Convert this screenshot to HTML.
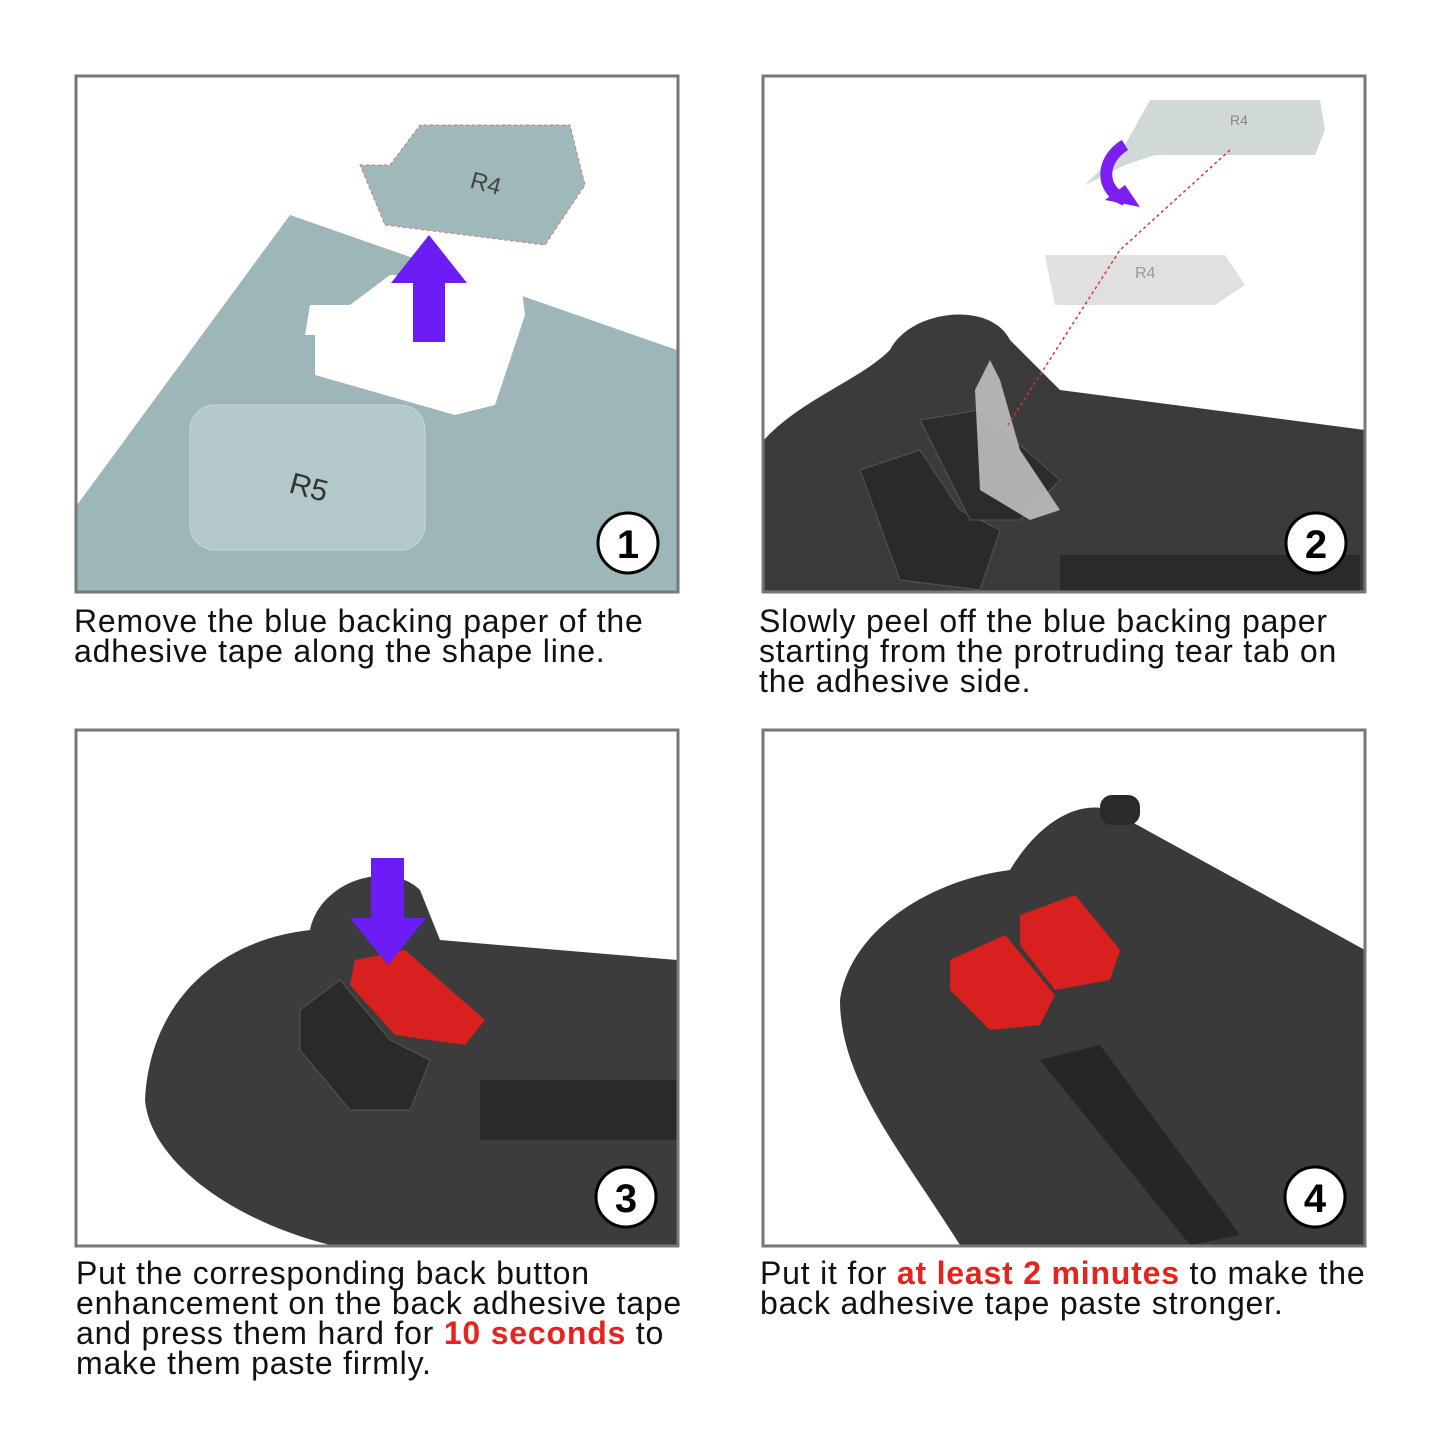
<!DOCTYPE html>
<html><head><meta charset="utf-8"><style>
body{margin:0;background:#fff;width:1445px;height:1445px;overflow:hidden;position:relative;font-family:"Liberation Sans",sans-serif}
.t{position:absolute;font-size:32px;line-height:30px;color:#111;letter-spacing:0.8px;white-space:nowrap}
.r{color:#e8231f;font-weight:bold}
</style></head><body>
<svg width="1445" height="1445" style="position:absolute;left:0;top:0">
<defs>
<clipPath id="c1"><rect x="77" y="77" width="600" height="514"/></clipPath>
<clipPath id="c2"><rect x="764" y="77" width="600" height="514"/></clipPath>
<clipPath id="c3"><rect x="77" y="731" width="600" height="514"/></clipPath>
<clipPath id="c4"><rect x="764" y="731" width="600" height="514"/></clipPath>
</defs>
<g clip-path="url(#c1)">
<polygon points="77,505 290,215 677,350 677,591 77,591" fill="#9db7b9"/>
<path d="M310,305 h40 l40,-30 h130 l5,40 l-30,90 l-40,10 l-140,-40 v-40 h-10 z" fill="#fff"/>
<rect x="190" y="405" width="235" height="145" rx="25" fill="#b3c8c9" stroke="#c9d8d8"/>
<text x="290" y="495" font-size="30" fill="#333" transform="rotate(15 300 485)">R5</text>
<path d="M360,165 h30 l30,-40 h150 l15,60 l-40,60 l-160,-20 z" fill="#9fb8ba" stroke="#e07070" stroke-dasharray="3,3"/>
<text x="470" y="190" font-size="24" fill="#444" transform="rotate(15 480 185)">R4</text>
<polygon points="413,342 445,342 445,283 467,283 429,235 391,283 413,283" fill="#6c1cf5"/>
</g>
<rect x="76" y="76" width="602" height="516" fill="none" stroke="#777" stroke-width="3"/>
<g clip-path="url(#c2)">
<path d="M764,440 C800,400 860,380 890,350 C910,310 990,300 1010,340 L1060,390 L1365,430 V591 H764 Z" fill="#3b3b3c"/>
<path d="M860,470 l60,-20 l40,60 l40,20 l-20,60 l-80,-10 z" fill="#2a2a2a" stroke="#555"/>
<path d="M920,420 l60,-10 l80,70 l-40,40 l-50,0 z" fill="#2c2c2c" stroke="#555"/>
<path d="M975,390 l15,-30 l10,20 l20,70 l40,60 l-30,10 l-50,-30 z" fill="#c8c8c8" opacity="0.85"/>
<path d="M1045,255 h180 l20,30 l-30,20 h-160 z" fill="#e0e0e0"/>
<text x="1135" y="278" font-size="16" fill="#999">R4</text>
<path d="M1150,100 h170 l5,30 l-10,25 h-160 l-30,10 l-40,20 l40,-40 z" fill="#d0d8d8"/>
<text x="1230" y="125" font-size="14" fill="#888">R4</text>
<path d="M1230,150 L1120,250 L1008,425" stroke="#d33" stroke-width="1.5" stroke-dasharray="3,3" fill="none"/>
<path d="M1125,145 C1100,160 1100,190 1125,200" stroke="#7a1ff0" stroke-width="12" fill="none"/>
<polygon points="1105,200 1140,207 1125,185" fill="#7a1ff0"/>
<rect x="1060" y="555" width="300" height="36" fill="#2a2a2a"/>
</g>
<rect x="763" y="76" width="602" height="516" fill="none" stroke="#777" stroke-width="3"/>
<g clip-path="url(#c3)">
<path d="M145,1100 C150,1000 220,940 310,930 C320,880 390,860 420,890 L440,940 L677,960 V1245 H330 C230,1220 150,1160 145,1100 Z" fill="#3c3c3d"/>
<path d="M300,1010 l40,-30 l50,60 l40,20 l-20,50 l-60,0 l-50,-60 z" fill="#2a2a2a" stroke="#555"/>
<path d="M355,960 l50,-10 l80,70 l-20,25 l-70,-10 l-45,-50 z" fill="#d8201f"/>
<rect x="480" y="1080" width="197" height="60" fill="#2a2a2a"/>
<polygon points="371,858 404,858 404,918 426,918 388,965 350,918 371,918" fill="#6c1cf5"/>
</g>
<rect x="76" y="730" width="602" height="516" fill="none" stroke="#777" stroke-width="3"/>
<g clip-path="url(#c4)">
<path d="M840,1000 C850,930 930,880 1010,870 C1040,820 1080,800 1110,810 L1365,950 V1245 H960 C900,1150 840,1080 840,1000 Z" fill="#3a3a3b"/>
<rect x="1100" y="795" width="40" height="30" rx="12" fill="#2a2a2a"/>
<path d="M950,960 l55,-25 l50,60 l-15,30 l-50,5 l-40,-40 z" fill="#d8201f"/>
<path d="M1020,915 l55,-20 l45,55 l-10,30 l-55,10 l-35,-45 z" fill="#d8201f"/>
<path d="M1040,1060 l60,-15 l140,190 l-50,10 z" fill="#262626"/>
</g>
<rect x="763" y="730" width="602" height="516" fill="none" stroke="#777" stroke-width="3"/>
<g font-family="Liberation Sans" font-weight="bold" font-size="40" text-anchor="middle">
<circle cx="628" cy="543" r="30" fill="#fff" stroke="#000" stroke-width="3"/><text x="628" y="558">1</text>
<circle cx="1316" cy="543" r="30" fill="#fff" stroke="#000" stroke-width="3"/><text x="1316" y="558">2</text>
<circle cx="626" cy="1197" r="30" fill="#fff" stroke="#000" stroke-width="3"/><text x="626" y="1212">3</text>
<circle cx="1315" cy="1197" r="30" fill="#fff" stroke="#000" stroke-width="3"/><text x="1315" y="1212">4</text>
</g>
</svg>
<div class="t" style="left:74px;top:606px">Remove the blue backing paper of the<br>adhesive tape along the shape line.</div>
<div class="t" style="left:759px;top:606px">Slowly peel off the blue backing paper<br>starting from the protruding tear tab on<br>the adhesive side.</div>
<div class="t" style="left:76px;top:1258px">Put the corresponding back button<br>enhancement on the back adhesive tape<br>and press them hard for <span class="r">10 seconds</span> to<br>make them paste firmly.</div>
<div class="t" style="left:760px;top:1258px">Put it for <span class="r">at least 2 minutes</span> to make the<br>back adhesive tape paste stronger.</div>
</body></html>
